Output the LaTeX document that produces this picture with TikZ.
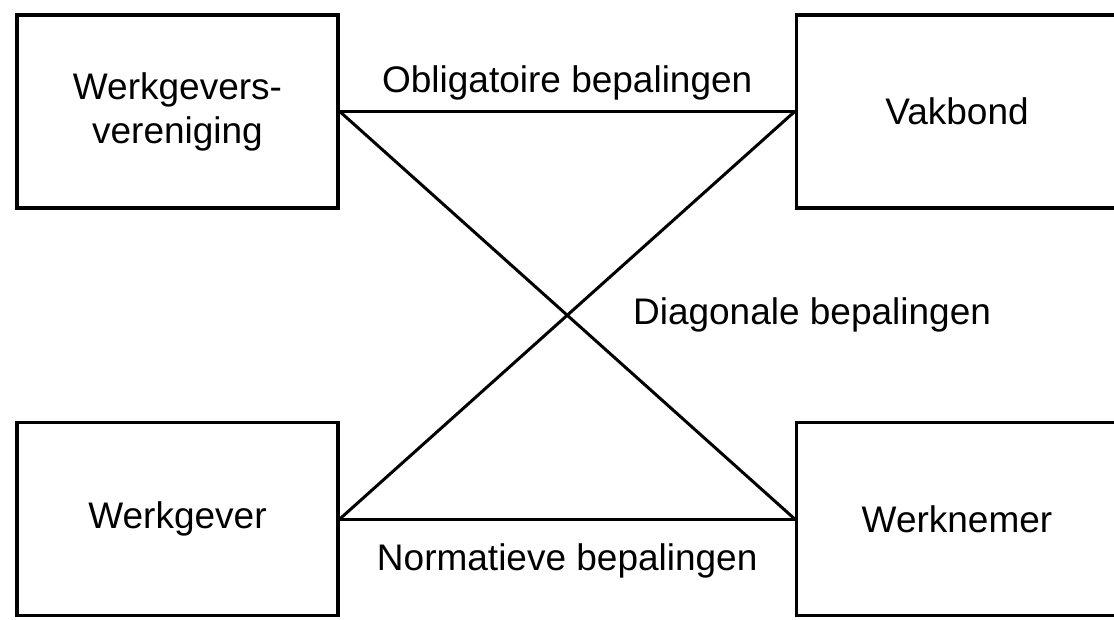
\documentclass[tikz,border=0pt]{standalone}
\usepackage{fontspec}
\setmainfont{Liberation Sans}
\usetikzlibrary{positioning}

\begin{document}
\begin{tikzpicture}[x=1pt,y=-1pt,node distance=779.5pt,on grid,
  partij/.style={draw,line width=3.5pt,minimum width=321pt,minimum height=193pt,inner sep=0pt,align=center,font=\fontsize{37}{44}\selectfont},
  bep/.style={font=\fontsize{37}{44}\selectfont}]
   \clip (0,0) rectangle (1114,620);
   \node[partij] (WV) at (177.5,111.5) {Werkgevers-\\vereniging};
   \node[partij] (VB) [right=of WV] {Vakbond};
   \node[partij] (WG) [below=407.5pt of WV] {Werkgever};
   \node[partij] (WN) [right=of WG] {Werknemer};

    \path[line width=3pt]
    (WV.east) edge node[bep,above=6pt] {Obligatoire bepalingen} (VB.west)
              edge (WN.west)
    (WG.east) edge node[bep,below=20pt] {Normatieve bepalingen} (WN.west)
              edge node[bep,right=61pt] {Diagonale bepalingen} (VB.west);
\end{tikzpicture}
\end{document}
